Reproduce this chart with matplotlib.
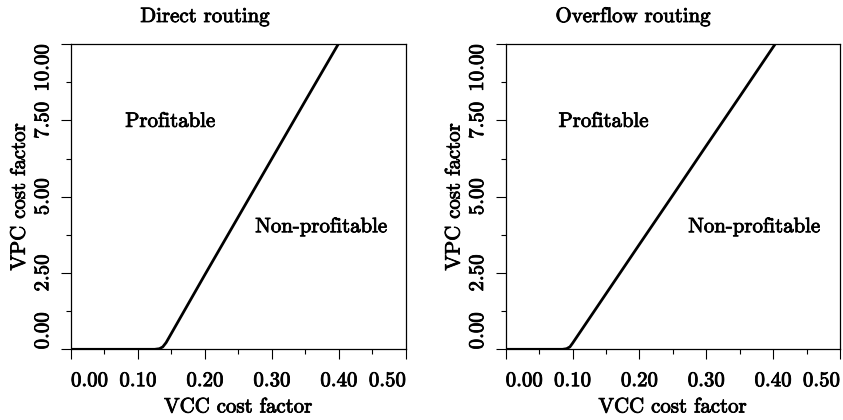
import matplotlib.pyplot as plt
import matplotlib.patheffects as pe
from matplotlib.text import Text

# break-even curves
direct_vcc = [0.0, 0.05, 0.10, 0.125, 0.132, 0.137, 0.142, 0.20, 0.25, 0.30, 0.35, 0.399]
direct_vpc = [0.0, 0.0, 0.0, 0.0, 0.02, 0.08, 0.22, 2.45, 4.35, 6.25, 8.15, 10.0]

overflow_vcc = [0.0, 0.05, 0.085, 0.091, 0.096, 0.100, 0.15, 0.20, 0.25, 0.30, 0.35, 0.403]
overflow_vpc = [0.0, 0.0, 0.0, 0.02, 0.08, 0.20, 1.82, 3.44, 5.05, 6.67, 8.28, 10.0]

titles = ["Direct routing", "Overflow routing"]
xticks = [0.0, 0.1, 0.2, 0.3, 0.4, 0.5]
xlabels = ["0.00", "0.10", "0.20", "0.30", "0.40", "0.50"]
yticks = [0.0, 2.5, 5.0, 7.5, 10.0]
ylabels = ["0.00", "2.50", "5.00", "7.50", "10.00"]

plt.rcParams['font.family'] = 'cmr10'
plt.rcParams['font.size'] = 15

fig = plt.figure(figsize=(8.43, 4.20), dpi=100)
ax1 = fig.add_axes([0.0842, 0.1683, 0.3974, 0.7269])
ax2 = fig.add_axes([0.5999, 0.1683, 0.3966, 0.7269])

curves = [(direct_vcc, direct_vpc), (overflow_vcc, overflow_vpc)]
title_x = [205 / 843, 633 / 843]
prof_x = [0.081, 0.079]
nonprof_x = [0.275, 0.273]

for i, ax in enumerate([ax1, ax2]):
    x, y = curves[i]
    ax.plot(x, y, color='black', linewidth=2.0, solid_joinstyle='round')
    ax.set_xlim(0, 0.5)
    ax.set_ylim(0, 10)

    ax.set_xticks(xticks)
    ax.set_xticklabels(xlabels)
    ax.set_xticks([0.05, 0.15, 0.25, 0.35, 0.45], minor=True)
    ax.set_yticks(yticks)
    ax.set_yticklabels(ylabels, rotation=90, va='center')
    ax.set_yticks([1.25, 3.75, 6.25, 8.75], minor=True)

    ax.tick_params(which='major', length=7.5, width=0.8, direction='out')
    ax.tick_params(which='minor', length=3.5, width=0.8, direction='out')
    ax.tick_params(axis='x', pad=9)
    ax.tick_params(axis='y', pad=6)

    # end labels pushed inside the axis range
    xl = ax.get_xticklabels()
    xl[0].set_ha('left')
    xl[-1].set_ha('right')
    yl = ax.get_yticklabels()
    yl[0].set_va('bottom')
    yl[-1].set_va('top')

    for s in ax.spines.values():
        s.set_linewidth(0.9)

    ax.set_xlabel("VCC cost factor", labelpad=6)
    ax.set_ylabel("VPC cost factor", labelpad=4)

    ax.text(prof_x[i], 7.45, "Profitable", ha='left', va='center')
    ax.text(nonprof_x[i], 4.0, "Non-profitable", ha='left', va='center')

    fig.text(title_x[i], 1 - 17 / 420, titles[i], ha='center', va='center')

# the scanned type is heavier than plain cmr10
for t in fig.findobj(Text):
    t.set_path_effects([pe.withStroke(linewidth=0.6, foreground='black')])

fig.savefig("out.png", dpi=100)
